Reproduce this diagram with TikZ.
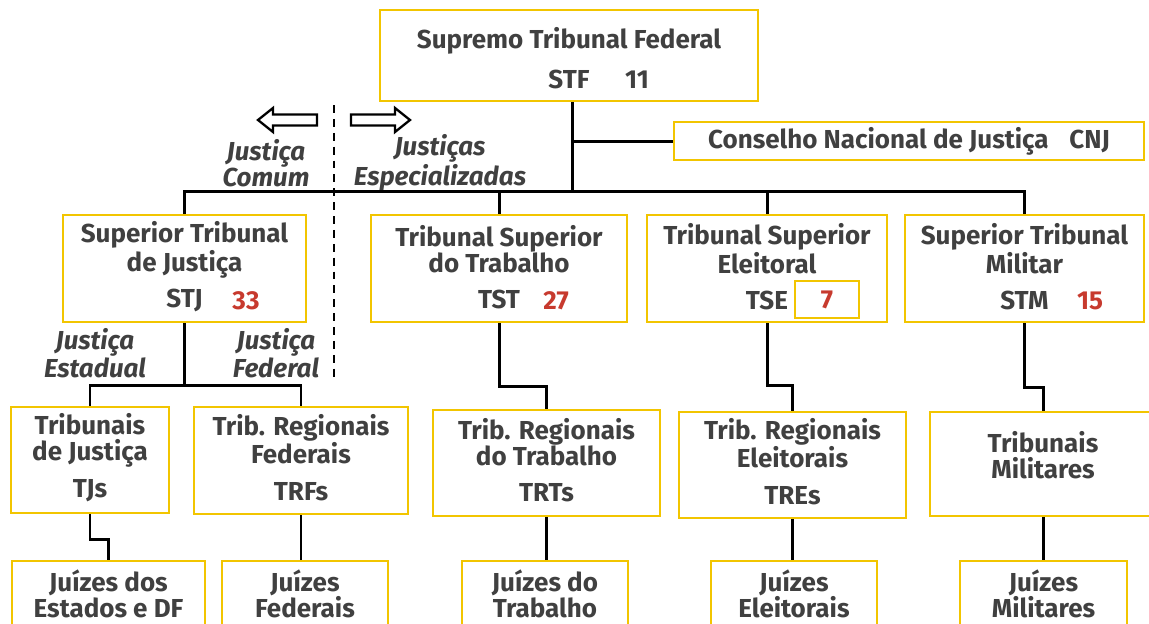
\documentclass[tikz,border=0pt]{standalone}
\usepackage{fontspec}
\setmainfont{Fira Sans}
\usepackage{tikz}
\usetikzlibrary{calc}
\definecolor{courtgold}{HTML}{F2C500}
\definecolor{inkgray}{HTML}{404040}
\definecolor{numred}{HTML}{C73A2E}
\tikzset{
  court/.style={draw=courtgold, line width=1.6pt, inner sep=0pt},
  txt/.style={text=inkgray, font=\bfseries\fontsize{14.8}{14.8}\selectfont, align=center, inner sep=0pt},
  side/.style={txt, font=\bfseries\itshape\fontsize{14.8}{14.8}\selectfont},
  num/.style={txt, text=numred},
  link/.style={line width=1.7pt, black},
}

\begin{document}
\begin{tikzpicture}[x=0.02cm,y=-0.02cm]
\useasboundingbox (0,0) rectangle (1149,623);
\clip (0,0) rectangle (1149,623);

% top
\node[court, minimum width=7.56cm, minimum height=1.82cm] (stf) at (569,55.5) {};
\node[txt] (stftxt) at (569,58) {Supremo Tribunal Federal\\[8pt]STF};
\node[txt] (stfnum) at (637,80) {11};
\node[court, minimum width=9.4cm, minimum height=0.76cm] (cnj) at (909,141) {};
\node[txt] (cnjtxt) at (cnj) {Conselho Nacional de Justiça\hspace{0.8em}CNJ};

% superior courts
\node[court, minimum width=4.86cm, minimum height=2.14cm] (stj) at (184.5,268.5) {};
\node[court, minimum width=5.12cm, minimum height=2.14cm] (tst) at (499,268.5) {};
\node[court, minimum width=4.8cm, minimum height=2.14cm] (tse) at (767,268.5) {};
\node[court, minimum width=4.78cm, minimum height=2.14cm] (stm) at (1024.5,268.5) {};
\node[txt] (stjtxt) at (184.5,267) {Superior Tribunal\\de Justiça\\[6pt]STJ};
\node[txt] (tsttxt) at (499,267) {Tribunal Superior\\do Trabalho\\[6pt]TST};
\node[txt] (tsetxt) at (767,267) {Tribunal Superior\\Eleitoral\\[6pt]TSE};
\node[txt] (stmtxt) at (1024.5,267) {Superior Tribunal\\Militar\\[6pt]STM};
\node[num] (stjnum) at (246,301) {33};
\node[num] (tstnum) at (556,301) {27};
\node[court, minimum width=1.28cm, minimum height=0.74cm] (tsebox) at (827,299.5) {};
\node[num] (tsenum) at (tsebox) {7};
\node[num] (stmnum) at (1090,301) {15};

% regional courts
\node[court, minimum width=3.16cm, minimum height=2.12cm] (tjs) at (90,460) {};
\node[court, minimum width=4.28cm, minimum height=2.14cm] (trfs) at (301,460.5) {};
\node[court, minimum width=4.54cm, minimum height=2.12cm] (trts) at (546.5,463) {};
\node[court, minimum width=4.54cm, minimum height=2.12cm] (tres) at (792.5,465) {};
\node[court, minimum width=4.52cm, minimum height=2.08cm] (tms) at (1043,464) {};
\node[txt] (tjstxt) at (90,457.5) {Tribunais\\de Justiça\\[6pt]TJs};
\node[txt] (trfstxt) at (301,457.5) {Trib. Regionais\\Federais\\[6pt]TRFs};
\node[txt] (trtstxt) at (546.5,460) {Trib. Regionais\\do Trabalho\\[6pt]TRTs};
\node[txt] (trestxt) at (792.5,461.5) {Trib. Regionais\\Eleitorais\\[6pt]TREs};
\node[txt] (tmstxt) at (1043,455.5) {Tribunais\\Militares};

% judges
\node[court, minimum width=3.86cm, minimum height=2cm] (jest) at (108.5,611) {};
\node[court, minimum width=3.32cm, minimum height=2cm] (jfed) at (305,611) {};
\node[court, minimum width=3.32cm, minimum height=2cm] (jtrab) at (545,611) {};
\node[court, minimum width=3.32cm, minimum height=2cm] (jele) at (794,611) {};
\node[court, minimum width=3.34cm, minimum height=2cm] (jmil) at (1043.5,611) {};
\node[txt] (jesttxt) at (108.5,593.5) {Juízes dos\\Estados e DF};
\node[txt] (jfedtxt) at (305,593.5) {Juízes\\Federais};
\node[txt] (jtrabtxt) at (545,593.5) {Juízes do\\Trabalho};
\node[txt] (jeletxt) at (794,593.5) {Juízes\\Eleitorais};
\node[txt] (jmiltxt) at (1043.5,593.5) {Juízes\\Militares};

% side labels
\node[side] (comum) at (266,163) {Justiça\\Comum};
\node[side] (espec) at (440,163) {Justiças\\Especializadas};
\node[side] (estad) at (95,353) {Justiça\\Estadual};
\node[side] (feder) at (276,353) {Justiça\\Federal};

% divider and arrows
\coordinate (divtop) at (334,105);
\coordinate (divbot) at (334,378);
\draw[line width=1.5pt, dash pattern=on 4.5pt off 3.4pt] (divtop) -- (divbot);
\draw[line width=1.3pt] (258,120)--(273,108)--(273,114.5)--(317,114.5)--(317,125.5)--(273,125.5)--(273,132)--cycle;
\draw[line width=1.3pt] (410,120)--(395,108)--(395,114.5)--(351,114.5)--(351,125.5)--(395,125.5)--(395,132)--cycle;

% connectors
\coordinate (hub) at (572,191);
\coordinate (split) at (184.5,385);
\draw[link] (stf.south -| hub) -- (hub);
\draw[link] (hub |- cnj.west) -- (cnj.west);
\draw[link] (stj.north) |- (hub) -| (stm.north);
\draw[link] (tst.north) -- (tst.north |- hub);
\draw[link] (tse.north) -- (tse.north |- hub);
\draw[link] (stj.south) -- (split);
\draw[link] (tjs.north) |- (split) -| (trfs.north);
\draw[link] (tst.south) -- ++(0,63) -| (trts.north);
\draw[link] (tse.south) -- ++(0,62) -| (tres.north);
\draw[link] (stm.south) -- ++(0,64) -| (tms.north);
\draw[link] (tjs.south) -- ++(0,25) -| (jest.north);
\draw[link] (trfs.south) -- (trfs.south |- jfed.north);
\draw[link] (trts.south) -- (trts.south |- jtrab.north);
\draw[link] (tres.south) -- (tres.south |- jele.north);
\draw[link] (tms.south) -- (tms.south |- jmil.north);
\end{tikzpicture}
\end{document}
